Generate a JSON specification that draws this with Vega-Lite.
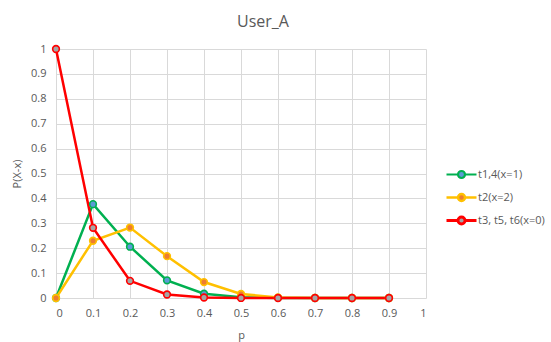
{
  "$schema": "https://vega.github.io/schema/vega-lite/v6.json",
  "autosize": {"type": "none"},
  "padding": {"left": 56, "top": 49, "right": 125, "bottom": 44},
  "width": 370,
  "height": 249,
  "background": "white",
  "title": {"text": "User_A", "fontSize": 16, "font": "Open Sans", "fontWeight": "normal", "color": "#595959", "offset": 12, "dx": 22},
  "config": {
    "view": {"stroke": null},
    "axis": {"labelFont": "Open Sans", "titleFont": "Open Sans", "labelColor": "#595959", "titleColor": "#595959", "labelFontSize": 11, "titleFontSize": 11, "titleFontWeight": "normal", "gridColor": "#d9d9d9", "ticks": false, "domain": false, "format": "~g"}
  },
  "data": {"values": [
    {"p": 0, "series": "t1,4(x=1)", "v": 0},
    {"p": 0.1, "series": "t1,4(x=1)", "v": 0.377},
    {"p": 0.2, "series": "t1,4(x=1)", "v": 0.206},
    {"p": 0.3, "series": "t1,4(x=1)", "v": 0.071},
    {"p": 0.4, "series": "t1,4(x=1)", "v": 0.017},
    {"p": 0.5, "series": "t1,4(x=1)", "v": 0.003},
    {"p": 0.6, "series": "t1,4(x=1)", "v": 0.0003},
    {"p": 0.7, "series": "t1,4(x=1)", "v": 0},
    {"p": 0.8, "series": "t1,4(x=1)", "v": 0},
    {"p": 0.9, "series": "t1,4(x=1)", "v": 0},
    {"p": 0, "series": "t2(x=2)", "v": 0},
    {"p": 0.1, "series": "t2(x=2)", "v": 0.230},
    {"p": 0.2, "series": "t2(x=2)", "v": 0.283},
    {"p": 0.3, "series": "t2(x=2)", "v": 0.168},
    {"p": 0.4, "series": "t2(x=2)", "v": 0.064},
    {"p": 0.5, "series": "t2(x=2)", "v": 0.016},
    {"p": 0.6, "series": "t2(x=2)", "v": 0.0025},
    {"p": 0.7, "series": "t2(x=2)", "v": 0.0002},
    {"p": 0.8, "series": "t2(x=2)", "v": 0},
    {"p": 0.9, "series": "t2(x=2)", "v": 0},
    {"p": 0, "series": "t3, t5, t6(x=0)", "v": 1},
    {"p": 0.1, "series": "t3, t5, t6(x=0)", "v": 0.282},
    {"p": 0.2, "series": "t3, t5, t6(x=0)", "v": 0.069},
    {"p": 0.3, "series": "t3, t5, t6(x=0)", "v": 0.014},
    {"p": 0.4, "series": "t3, t5, t6(x=0)", "v": 0.002},
    {"p": 0.5, "series": "t3, t5, t6(x=0)", "v": 0.0002},
    {"p": 0.6, "series": "t3, t5, t6(x=0)", "v": 0},
    {"p": 0.7, "series": "t3, t5, t6(x=0)", "v": 0},
    {"p": 0.8, "series": "t3, t5, t6(x=0)", "v": 0},
    {"p": 0.9, "series": "t3, t5, t6(x=0)", "v": 0}
  ]},
  "encoding": {
    "x": {"field": "p", "type": "quantitative", "scale": {"domain": [0, 1], "nice": false}, "axis": {"title": "p", "values": [0,0.1,0.2,0.3,0.4,0.5,0.6,0.7,0.8,0.9,1], "labelPadding": 9, "titlePadding": 11}},
    "y": {"field": "v", "type": "quantitative", "scale": {"domain": [0, 1], "nice": false}, "axis": {"title": "P(X-x)", "values": [0,0.1,0.2,0.3,0.4,0.5,0.6,0.7,0.8,0.9,1], "labelPadding": 10, "titlePadding": 8}},
    "stroke": {"field": "series", "type": "nominal", "scale": {"domain": ["t1,4(x=1)", "t2(x=2)", "t3, t5, t6(x=0)"], "range": ["#00B050", "#FFC000", "#FF0000"]},
      "legend": {"title": null, "orient": "none", "legendX": 394, "legendY": 114, "labelFont": "Open Sans", "labelFontSize": 11, "labelColor": "#595959", "rowPadding": 3, "labelOffset": 5, "symbolStrokeWidth": 2, "symbolSize": 400,
        "symbolType": "M-1.5,0H-0.35M0.35,0H1.5M-0.35,0A0.35,0.35 0 1,0 0.35,0A0.35,0.35 0 1,0 -0.35,0Z"}},
    "order": {"field": "p", "type": "quantitative"}
  },
  "layer": [
    {"mark": {"type": "line", "strokeWidth": 2.5}, "encoding": {"strokeWidth": {"field": "series", "type": "nominal", "scale": {"domain": ["t1,4(x=1)", "t2(x=2)", "t3, t5, t6(x=0)"], "range": [2.2, 2.8, 3]}, "legend": null}}},
    {"mark": {"type": "point", "filled": false, "size": 45, "strokeWidth": 1.6, "opacity": 1},
     "encoding": {"fill": {"field": "series", "type": "nominal", "scale": {"domain": ["t1,4(x=1)", "t2(x=2)", "t3, t5, t6(x=0)"], "range": ["#5B9BD5", "#ED7D31", "#A5A5A5"]}, "legend": null}}}
  ]
}
